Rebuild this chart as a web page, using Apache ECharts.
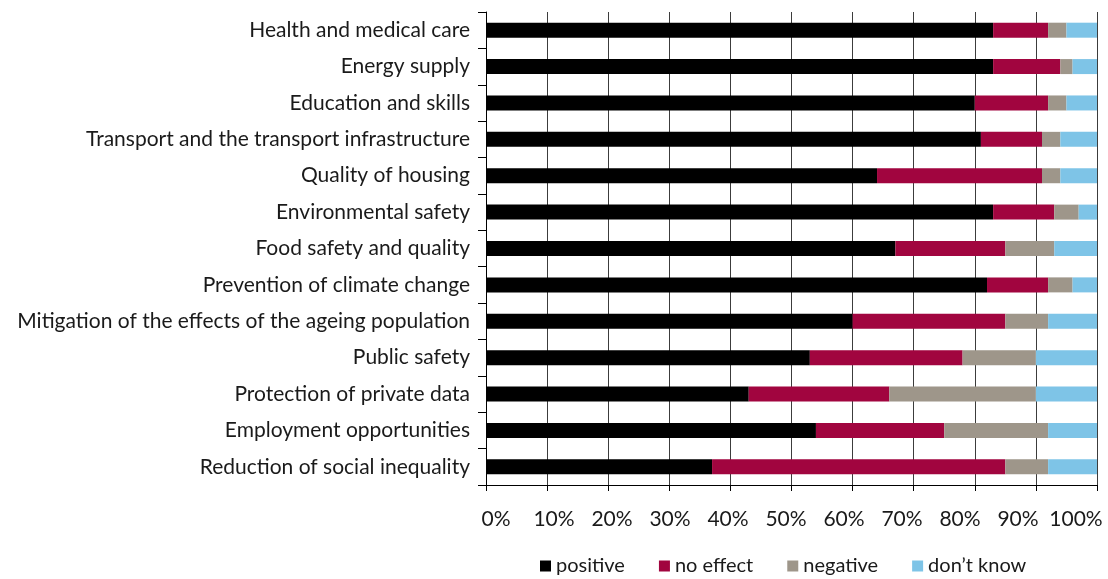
<!DOCTYPE html>
<html>
<head>
<meta charset="utf-8">
<script src="https://cdn.jsdelivr.net/npm/echarts@6/dist/echarts.min.js"></script>
<style>
  html, body { margin: 0; padding: 0; background: #ffffff; }
  #chart { width: 1108px; height: 579px; }
</style>
</head>
<body>
<div id="chart"></div>
<script>
// Survey areas, listed top to bottom
const categories = [
  'Health and medical care',
  'Energy supply',
  'Education and skills',
  'Transport and the transport infrastructure',
  'Quality of housing',
  'Environmental safety',
  'Food safety and quality',
  'Prevention of climate change',
  'Mitigation of the effects of the ageing population',
  'Public safety',
  'Protection of private data',
  'Employment opportunities',
  'Reduction of social inequality'
];

// Share of answers per area, in percent
const positive  = [83, 83, 80, 81, 64, 83, 67, 82, 60, 53, 43, 54, 37];
const noEffect  = [ 9, 11, 12, 10, 27, 10, 18, 10, 25, 25, 23, 21, 48];
const negative  = [ 3,  2,  3,  3,  3,  4,  8,  4,  7, 12, 24, 17,  7];
const dontKnow  = [ 5,  4,  5,  6,  6,  3,  7,  4,  8, 10, 10,  8,  8];

const seriesNames = ['positive', 'no effect', 'negative', "don\u2019t know"];
const xTicks = [0, 10, 20, 30, 40, 50, 60, 70, 80, 90, 100];

const FONT = 'Lato';
const colors = ['#000000', '#a1053f', '#9e968a', '#7ec4e7'];

const chart = echarts.init(document.getElementById('chart'), null, { renderer: 'canvas' });

function barSeries(name, data, color) {
  return {
    name: name,
    type: 'bar',
    stack: 'total',
    barWidth: 15,
    data: data,
    itemStyle: { color: color },
    emphasis: { disabled: true }
  };
}

chart.setOption({
  animation: false,
  backgroundColor: '#ffffff',
  color: colors,
  textStyle: { fontFamily: FONT },
  legend: {
    left: 540,
    top: 556,
    padding: 0,
    itemWidth: 11,
    itemHeight: 11,
    itemGap: 34,
    icon: 'rect',
    textStyle: { fontFamily: FONT, fontSize: 20, color: '#1a1a1a' },
    data: seriesNames
  },
  grid: [
    { left: 486, right: 11, top: 12, bottom: 94, containLabel: false },
    // text layer carrying the percentage labels under the axis
    { left: 496, right: 32, top: 12, bottom: 94, containLabel: false }
  ],
  xAxis: [
    {
      type: 'value',
      gridIndex: 0,
      min: 0,
      max: 100,
      interval: 10,
      axisLine: { show: true, lineStyle: { color: '#000000', width: 1 } },
      axisTick: { show: true, length: 6, lineStyle: { color: '#000000', width: 1 } },
      splitLine: { show: true, lineStyle: { color: '#3c3c3c', width: 1 } },
      axisLabel: { show: false }
    },
    {
      type: 'value',
      gridIndex: 1,
      min: xTicks[0],
      max: xTicks[xTicks.length - 1],
      interval: 10,
      axisLine: { show: false },
      axisTick: { show: false },
      splitLine: { show: false },
      axisLabel: {
        show: true,
        margin: 24,
        fontFamily: FONT,
        fontSize: 21,
        color: '#1a1a1a',
        formatter: v => v + '%'
      }
    }
  ],
  yAxis: [
    {
      type: 'category',
      gridIndex: 0,
      inverse: true,
      data: categories,
      axisLine: { show: true, lineStyle: { color: '#000000', width: 1 } },
      axisTick: { show: true, length: 8, lineStyle: { color: '#000000', width: 1 } },
      axisLabel: {
        margin: 16,
        fontFamily: FONT,
        fontSize: 21,
        color: '#1a1a1a'
      },
      splitLine: { show: false }
    },
    {
      type: 'category',
      gridIndex: 1,
      show: false,
      data: categories
    }
  ],
  series: [
    barSeries(seriesNames[0], positive, colors[0]),
    barSeries(seriesNames[1], noEffect, colors[1]),
    barSeries(seriesNames[2], negative, colors[2]),
    barSeries(seriesNames[3], dontKnow, colors[3])
  ]
});
</script>
</body>
</html>
